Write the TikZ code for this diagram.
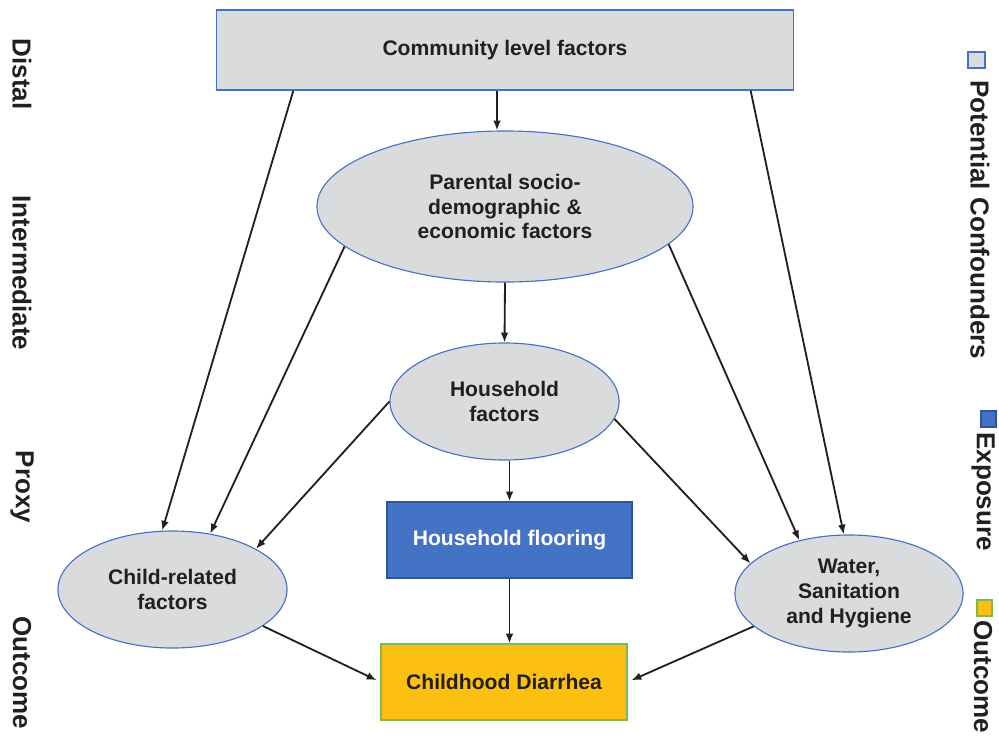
\documentclass[tikz,border=0pt]{standalone}
\usepackage{fontspec}
\setmainfont{Liberation Sans}
\usetikzlibrary{shapes.geometric,calc,arrows.meta}

\definecolor{confgray}{HTML}{DADBDD}
\definecolor{lineblue}{HTML}{4472C4}
\definecolor{expedge}{HTML}{2F5597}
\definecolor{outyellow}{HTML}{FCC010}
\definecolor{outgreen}{HTML}{7DBB50}
\definecolor{textdark}{HTML}{231F20}

\begin{document}
\begin{tikzpicture}[>={Latex[length=7pt,width=5.5pt]}, x=0.025cm, y=-0.025cm,
  every node/.style={font=\fontsize{15}{17.5}\selectfont\bfseries, text=textdark, align=center, inner sep=0pt},
  confbox/.style={draw=lineblue, fill=confgray, line width=0.8pt},
  confoval/.style={ellipse, draw=lineblue, fill=confgray, line width=0.8pt},
  arr/.style={->, line width=1.3pt, textdark},
  level/.style={font=\fontsize{18.5}{20}\selectfont\bfseries, rotate=-90},
  key/.style={font=\fontsize{18.5}{20}\selectfont\bfseries, rotate=-90, anchor=west}]

\useasboundingbox (0,0) rectangle (999,738);

% Draw the levels on the left
\node[level] (ldistal) at (22,74) {Distal};
\node[level] (linter) at (22,273) {Intermediate};
\node[level] (lproxy) at (22,487) {Proxy};
\node[level] (loutcome) at (22,673) {Outcome};

% Draw the confounder boxes and ovals
\node[confbox, minimum width=14.4cm, minimum height=2cm] (comm) at (505,50) {Community level factors};
\node[confoval, minimum width=9.4cm, minimum height=3.775cm] (parent) at (505,206.5) {Parental socio-\\demographic \&\\economic factors};
\node[confoval, minimum width=5.725cm, minimum height=2.925cm] (house) at (504.5,401.5) {Household\\factors};
\node[confoval, minimum width=5.725cm, minimum height=2.925cm] (child) at (172.5,589.5) {Child-related\\factors};
\node[confoval, minimum width=5.7cm, minimum height=2.925cm] (wash) at (849,593.5) {Water,\\Sanitation\\and Hygiene};

% Draw the exposure and the outcome
\node[draw=expedge, fill=lineblue, text=white, line width=0.8pt, minimum width=6.125cm, minimum height=1.9cm] (floor) at (509.5,540) {Household flooring};
\node[draw=outgreen, fill=outyellow, line width=0.8pt, minimum width=6.15cm, minimum height=1.9cm] (diarr) at (504,682) {Childhood Diarrhea};

% Draw the arrows
\draw[arr] ($(comm.south)+(-8,0)$) -- ($(parent.north)+(-8,0)$);
\draw[arr] ($(comm.south west)+(77,0)$) -- (child.100.6);
\draw[arr] ($(comm.south east)+(-43,0)$) -- (wash.95.6);
\draw[arr] (parent.south) -- (house.north);
\draw[arr] (parent.194.4) -- (child.56.2);
\draw[arr] (parent.347.1) -- (wash.133.6);
\draw[arr] (house.180) -- (child.26);
\draw[arr] (house.351.5) -- (wash.163.4);
\draw[arr] (house.south -| floor.north) -- (floor.north);
\draw[arr] (floor.south) -- (floor.south |- diarr.north);
\draw[arr, shorten >=3pt] (child.338) -- (diarr.west);
\draw[arr, shorten >=3pt] (wash.199.8) -- (diarr.east);

% Draw the legend on the right
\filldraw[draw=lineblue, fill=confgray, line width=0.8pt] (968,52) rectangle (985,68);
\node[key] (kconf) at (980,80) {Potential Confounders};
\filldraw[draw=expedge, fill=lineblue, line width=0.8pt] (981,411) rectangle (996,427);
\node[key] (kexp) at (983,432) {Exposure};
\filldraw[draw=outgreen, fill=outyellow, line width=0.8pt] (977,600) rectangle (992,616);
\node[key] (kout) at (983,620) {Outcome};

\end{tikzpicture}
\end{document}
